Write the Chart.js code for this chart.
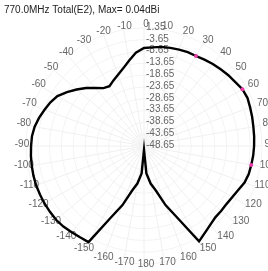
<!DOCTYPE html>
<html>
<head>
<meta charset="utf-8">
<script src="https://cdn.jsdelivr.net/npm/chart.js@4/dist/chart.umd.min.js"></script>
<style>
  body { margin: 0; background: #fff; }
  canvas { display: block; }
</style>
</head>
<body>
<canvas id="polar" width="268" height="271"></canvas>
<script>
// 770 MHz total gain pattern, polar plot

const titleText = '770.0MHz Total(E2), Max= 0.04dBi';

// angle of each sample (deg), clockwise from top
const angles = [
  0, 5, 10, 15, 20, 25, 30, 35, 40, 45, 50, 55, 60, 65, 70, 75, 80, 85,
  90, 95, 100, 105, 110, 115, 120, 125, 130, 135, 140, 145, 150, 155, 160, 165, 170, 175,
  180, -175, -170, -165, -160, -155, -150, -145, -140, -135, -130, -125, -120, -115, -110, -105,
  -100, -95, -90, -85, -80, -75, -70, -65, -60, -55, -50, -45, -40, -35, -30, -25, -20, -15, -10, -5
];

// gain in dBi, same order as angles
const gain = [
  -7.1, -6.7, -6.0, -5.6, -5.2, -4.8, -4.6, -4.0, -3.3, -2.7, -2.0, -1.4, -0.5, -0.3, -0.8, -1.2, -1.6, -1.8,
  -2.0, -2.2, -2.5, -2.7, -3.3, -4.6, -5.4, -5.9, -5.9, -5.9, -5.0, -3.7, -2.0, -15.0, -22.0, -29.0, -32.5, -37.0,
  -47.0, -37.0, -32.5, -29.0, -22.0, -15.0, -1.6, -1.4, -1.0, -0.35, 0.0, 0.0, 0.04, 0.0, 0.0, -0.15,
  -0.35, -0.55, -0.8, -1.0, -1.6, -2.6, -3.8, -4.9, -6.3, -8.8, -11.4, -13.9, -16.6, -18.7, -19.4, -18.0, -16.5, -14.6, -12.0, -9.0
];

// small pink markers on the trace
const markerAngles = [30, 60, 100];

// radial tick labels (dB)
const radialTicks = ['1.35', '-3.65', '-8.65', '-13.65', '-18.65', '-23.65', '-28.65', '-33.65', '-38.65', '-43.65', '-48.65'];
const rMin = -48.65;
const rMax = 1.35;

const markers = angles.map((a, i) => markerAngles.includes(a) ? gain[i] : null);

const FONT = '10px "Liberation Sans", Arial, sans-serif';

// draws title, tick column and angle labels
const labelsPlugin = {
  id: 'polarLabels',
  beforeDatasetsDraw(chart) {
    const ctx = chart.ctx;
    const s = chart.scales.r;
    ctx.save();
    ctx.font = FONT;
    ctx.fillStyle = '#666';

    // tick column along the 0 deg axis
    ctx.textAlign = 'left';
    ctx.textBaseline = 'middle';
    radialTicks.forEach(t => {
      const d = s.getDistanceFromCenterForValue(parseFloat(t));
      ctx.fillText(t, s.xCenter + 2, s.yCenter - d - 1);
    });

    // angle labels every 10 deg
    ctx.textAlign = 'center';
    angles.forEach((a, i) => {
      if (a % 10 !== 0) return;
      const ang = s.getIndexAngle(i) - Math.PI / 2;
      const x = s.xCenter + 2 + Math.cos(ang) * 124;
      const y = s.yCenter - 1.5 + Math.sin(ang) * 120;
      ctx.fillText(String(a), x, y);
    });

    // title
    ctx.fillStyle = '#222';
    ctx.textBaseline = 'alphabetic';
    ctx.textAlign = 'left';
    ctx.fillText(titleText, 4, 13);
    ctx.restore();
  }
};

new Chart(document.getElementById('polar'), {
  type: 'radar',
  data: {
    labels: angles,
    datasets: [
      {
        data: gain,
        order: 1,
        borderColor: '#000',
        borderWidth: 2.4,
        pointRadius: 0,
        fill: false,
        tension: 0
      },
      {
        data: markers,
        order: 0,
        showLine: false,
        pointRadius: 2,
        pointBorderWidth: 0,
        pointBackgroundColor: '#e83aa8'
      }
    ]
  },
  options: {
    responsive: false,
    animation: false,
    layout: { padding: { left: 26, right: 6, top: 28, bottom: 7 } },
    plugins: {
      legend: { display: false },
      tooltip: { enabled: false }
    },
    scales: {
      r: {
        min: rMin,
        max: rMax,
        ticks: { display: false, stepSize: 5 },
        pointLabels: { display: false },
        grid: { circular: true, color: '#f3f3f3', lineWidth: 1 },
        angleLines: {
          color: '#f0f0f0',
          lineWidth: c => angles[c.index] % 10 === 0 ? 1 : 0
        }
      }
    }
  },
  plugins: [labelsPlugin]
});
</script>
</body>
</html>
